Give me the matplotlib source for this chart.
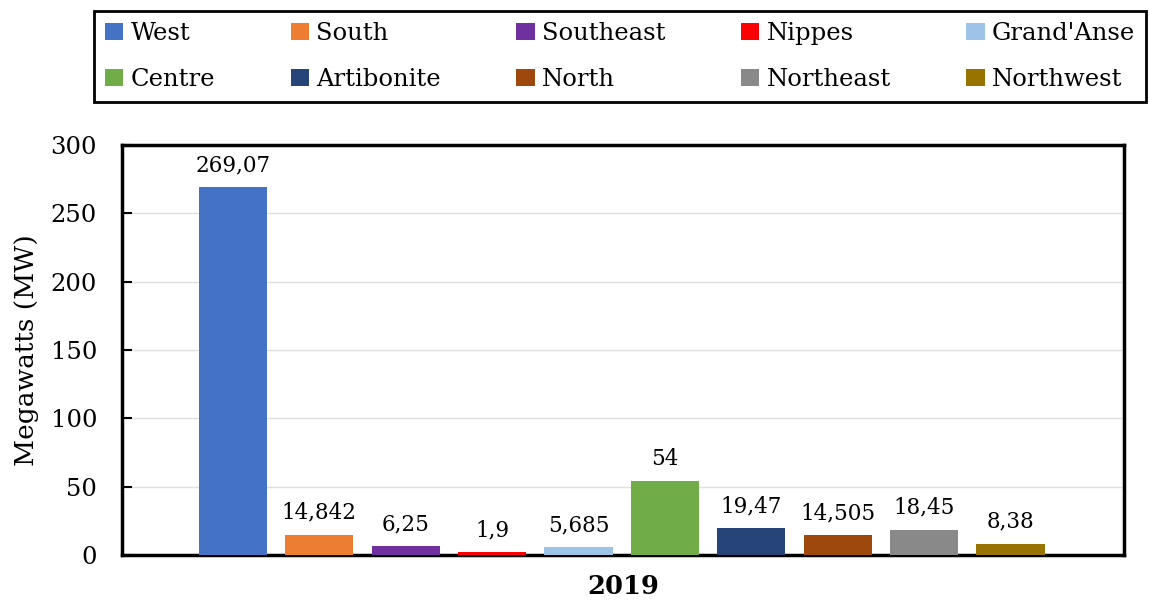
import matplotlib.pyplot as plt
import numpy as np

# regions and installed capacity (MW), 2019
regions = ['West', 'South', 'Southeast', 'Nippes', "Grand'Anse",
           'Centre', 'Artibonite', 'North', 'Northeast', 'Northwest']
values = [269.07, 14.842, 6.25, 1.9, 5.685, 54, 19.47, 14.505, 18.45, 8.38]
labels = ['269,07', '14,842', '6,25', '1,9', '5,685', '54', '19,47', '14,505', '18,45', '8,38']
colors = ['#4472C4', '#ED7D31', '#7030A0', '#FF0000', '#9DC3E6',
          '#70AD47', '#264478', '#9E480E', '#898989', '#997300']

plt.rcParams['font.family'] = ['DejaVu Serif']

fig = plt.figure(figsize=(11.49, 6.07), dpi=100)
ax = fig.add_axes([122 / 1149, 1 - 555 / 607, 1002 / 1149, 410 / 607])

x = np.arange(len(regions))
bars = ax.bar(x, values, width=0.79, color=colors, zorder=3)

for xi, v, lab in zip(x, values, labels):
    ax.annotate(lab, (xi, v), xytext=(0, 8), textcoords='offset points',
                ha='center', va='bottom', fontsize=15.5)

ax.set_xlim(-1.285, 10.315)
ax.set_ylim(0, 300)
ax.set_yticks([0, 50, 100, 150, 200, 250, 300])
ax.tick_params(axis='y', direction='in', length=7, width=1.5, labelsize=17.5, pad=18)
ax.set_xticks([])
ax.grid(axis='y', color='#e0e0e0', linewidth=1, zorder=0)
for s in ax.spines.values():
    s.set_linewidth(2.5)

ax.set_ylabel('Megawatts (MW)', fontsize=19, labelpad=8)
ax.set_xlabel('2019', fontsize=18.5, fontweight='bold', labelpad=14)

# legend fills column by column, so interleave to get row order
order = [0, 5, 1, 6, 2, 7, 3, 8, 4, 9]
leg = fig.legend(handles=[bars[i] for i in order], labels=[regions[i] for i in order],
                 ncol=5, loc='center',
                 bbox_to_anchor=(94 / 1149, 1 - 103 / 607, 1052 / 1149, 93 / 607),
                 mode='expand', fontsize=17.5, frameon=True, fancybox=False,
                 framealpha=1, handlelength=0.75, handleheight=0.75, handletextpad=0.3,
                 columnspacing=0.8, labelspacing=0.95, borderaxespad=0,
                 borderpad=0.45)
leg.get_frame().set_edgecolor('black')
leg.get_frame().set_linewidth(2)

fig.savefig('out.png', dpi=100)
